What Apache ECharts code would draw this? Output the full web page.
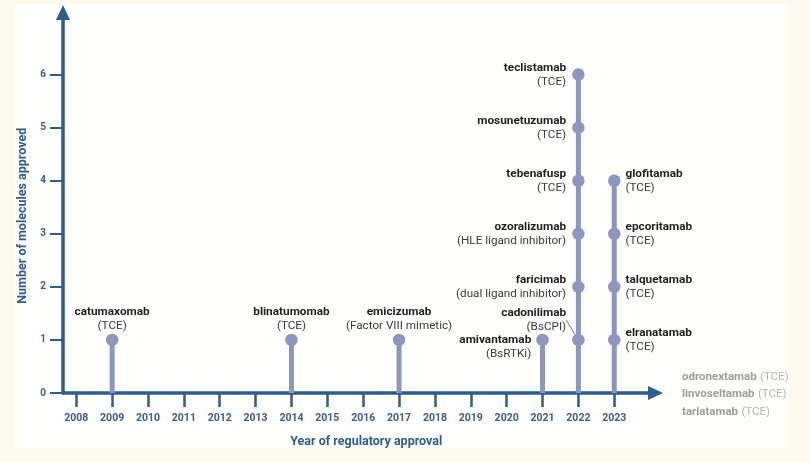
<!DOCTYPE html>
<html>
<head>
<meta charset="utf-8">
<script src="https://cdn.jsdelivr.net/npm/echarts@6/dist/echarts.min.js"></script>
<style>
html, body { margin: 0; padding: 0; background: #fdf9ee; }
#chart { width: 810px; height: 462px; }
</style>
</head>
<body>
<div id="chart"></div>
<script>
// tick labels on the year axis
const years = [2008, 2009, 2010, 2011, 2012, 2013, 2014, 2015, 2016, 2017, 2018, 2019, 2020, 2021, 2022, 2023];
const countTicks = [0, 1, 2, 3, 4, 5, 6];

// approved molecules, in the order they stack up per year
const molecules = ['catumaxomab', 'blinatumomab', 'emicizumab', 'amivantamab',
  'cadonilimab', 'faricimab', 'ozoralizumab', 'tebenafusp', 'mosunetuzumab', 'teclistamab',
  'elranatamab', 'talquetamab', 'epcoritamab', 'glofitamab'];
const mechanisms = ['(TCE)', '(TCE)', '(Factor VIII mimetic)', '(BsRTKi)',
  '(BsCPI)', '(dual ligand inhibitor)', '(HLE ligand inhibitor)', '(TCE)', '(TCE)', '(TCE)',
  '(TCE)', '(TCE)', '(TCE)', '(TCE)'];
const approvalYear = [2009, 2014, 2017, 2021,
  2022, 2022, 2022, 2022, 2022, 2022,
  2023, 2023, 2023, 2023];
const cumulative = [1, 1, 1, 1,
  1, 2, 3, 4, 5, 6,
  1, 2, 3, 4];

// pending molecules listed on the right
const pendingNames = ['odronextamab', 'linvoseltamab', 'tarlatamab'];
const pendingMechanisms = ['(TCE)', '(TCE)', '(TCE)'];

const axisColor = '#2d5d8e';
const stemColor = '#8d96bf';

// stems: one per year, height = number of molecules that year
const stemMap = {};
approvalYear.forEach((y, i) => { stemMap[y] = Math.max(stemMap[y] || 0, cumulative[i]); });
const stems = Object.keys(stemMap).map(y => [Number(y), stemMap[y]]);

const dots = molecules.map((name, i) => {
  const yr = approvalYear[i];
  const item = { name: name, value: [yr, cumulative[i]], mech: mechanisms[i] };
  if (yr === 2023) {
    item.label = { position: 'right', distance: 5, align: 'left' };
  } else if (yr === 2022) {
    item.label = { position: 'left', distance: 6, align: 'right' };
    if (name === 'cadonilimab') {
      item.labelLine = { show: true, lineStyle: { color: stemColor, width: 1.2 } };
    }
  } else if (yr === 2021) {
    item.label = { position: 'left', distance: 5, align: 'right' };
  } else {
    item.label = { position: 'top', distance: 1, align: 'center' };
  }
  return item;
});

const chart = echarts.init(document.getElementById('chart'));
chart.setOption({
  backgroundColor: '#fdf9ee',
  animation: false,
  textStyle: { fontFamily: 'Roboto' },
  graphic: [
    {
      type: 'rect', z: -10, silent: true,
      shape: { x: 15, y: 4, width: 774, height: 444, r: 4 },
      style: { fill: '#fffffd' }
    },
    {
      type: 'text', left: 682, top: 371,
      style: {
        text: pendingNames.map((n, i) => '{n|' + n + '} {m|' + pendingMechanisms[i] + '}').join('\n'),
        rich: {
          n: { fontFamily: 'Roboto', fontWeight: 'bold', fontSize: 11.5, fill: '#9c9c9c', lineHeight: 17.5 },
          m: { fontFamily: 'Roboto', fontSize: 11.5, fill: '#b5b5b5', lineHeight: 17.5 }
        }
      }
    }
  ],
  grid: { left: 63, right: 154.5, top: 12.5, bottom: 69, containLabel: false, outerBoundsMode: 'none' },
  xAxis: {
    type: 'value',
    min: 2007.63,
    max: 2024.15,
    name: 'Year of regulatory approval',
    nameLocation: 'middle',
    nameGap: 42,
    nameTextStyle: { color: axisColor, fontWeight: 'bold', fontSize: 12.5, padding: [0, 0, 0, 14] },
    axisLine: {
      show: true, symbol: ['none', 'triangle'], symbolSize: [14, 15],
      lineStyle: { color: axisColor, width: 3.5 }
    },
    axisTick: { show: true, customValues: years, length: 14, lineStyle: { color: axisColor, width: 2.5 } },
    axisLabel: {
      customValues: years, formatter: v => String(v), margin: 20,
      color: '#3b5c90', fontWeight: 'bold', fontSize: 10.5
    },
    splitLine: { show: false }
  },
  yAxis: {
    type: 'value',
    min: 0,
    max: 7.17,
    name: 'Number of molecules approved',
    nameLocation: 'middle',
    nameGap: 34,
    nameTextStyle: { color: axisColor, fontWeight: 'bold', fontSize: 12.5, padding: [0, 26, 0, 0] },
    axisLine: {
      show: true, symbol: ['none', 'triangle'], symbolSize: [14, 15],
      lineStyle: { color: axisColor, width: 3.5 }
    },
    axisTick: { show: true, customValues: countTicks, length: 13, lineStyle: { color: axisColor, width: 2 } },
    axisLabel: {
      customValues: countTicks, margin: 17,
      color: '#3b5c90', fontWeight: 'bold', fontSize: 10
    },
    splitLine: { show: false }
  },
  series: [
    {
      type: 'bar',
      data: stems,
      barWidth: 5,
      itemStyle: { color: stemColor },
      silent: true
    },
    {
      type: 'scatter',
      data: dots,
      symbolSize: 12.5,
      itemStyle: { color: stemColor, opacity: 1 },
      z: 3,
      label: {
        show: true,
        formatter: p => '{b|' + p.name + '}\n{m|' + p.data.mech + '}',
        rich: {
          b: { fontFamily: 'Roboto', fontWeight: 'bold', fontSize: 11.8, color: '#1f1f1f', lineHeight: 14 },
          m: { fontFamily: 'Roboto', fontSize: 11.7, color: '#3a3a3a', lineHeight: 14 }
        }
      },
      labelLayout: function (params) {
        const name = molecules[params.dataIndex];
        if (name === 'cadonilimab') return { dy: -20 };
        if (name === 'amivantamab') return { dy: 7 };
        return {};
      }
    }
  ]
});
</script>
</body>
</html>
